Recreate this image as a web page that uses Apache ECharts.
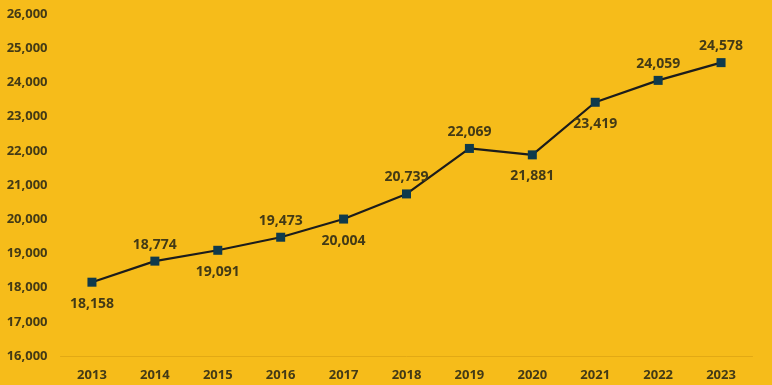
<!DOCTYPE html>
<html><head><meta charset="utf-8">
<script src="https://cdn.jsdelivr.net/npm/echarts@6/dist/echarts.min.js"></script>
<style>html,body{margin:0;padding:0;background:#F6BC1A;}#c{width:772px;height:385px;}</style>
</head><body><div id="c"></div>
<script>
const years = ['2013','2014','2015','2016','2017','2018','2019','2020','2021','2022','2023'];
const values = [18158,18774,19091,19473,20004,20739,22069,21881,23419,24059,24578];
const labelPos = ['bottom','top','bottom','top','bottom','top','top','bottom','bottom','top','top'];
const yMin = 16000, yMax = 26000, yStep = 1000;

const txt = '#433a16';
const font = '"Open Sans", "Noto Sans", sans-serif';
const chart = echarts.init(document.getElementById('c'));
chart.setOption({
  backgroundColor: '#F6BC1A',
  animation: false,
  grid: {left: 60.5, right: 19.5, top: 14, bottom: 29},
  xAxis: {
    type: 'category', data: years, boundaryGap: true,
    axisLine: {show: true, lineStyle: {color: '#E2A914', width: 1}},
    axisTick: {show: false},
    axisLabel: {color: txt, fontFamily: font, fontWeight: 'bold', fontSize: 13, margin: 13}
  },
  yAxis: {
    type: 'value', min: yMin, max: yMax, interval: yStep,
    splitLine: {show: false}, axisLine: {show: false}, axisTick: {show: false},
    axisLabel: {color: txt, fontFamily: font, fontWeight: 'bold', fontSize: 13, margin: 13,
      formatter: v => v.toLocaleString('en-US')}
  },
  series: [{
    type: 'line',
    data: values.map((v, i) => ({value: v, label: {position: labelPos[i], distance: labelPos[i] === 'top' ? 5 : 10}})),
    symbol: 'rect', symbolSize: 9,
    lineStyle: {color: '#1c1c1c', width: 2.2},
    itemStyle: {color: '#0f3a4c'},
    label: {show: true, color: txt, fontFamily: font, fontWeight: 'bold', fontSize: 14,
      formatter: p => p.value.toLocaleString('en-US')}
  }]
});
</script></body></html>
